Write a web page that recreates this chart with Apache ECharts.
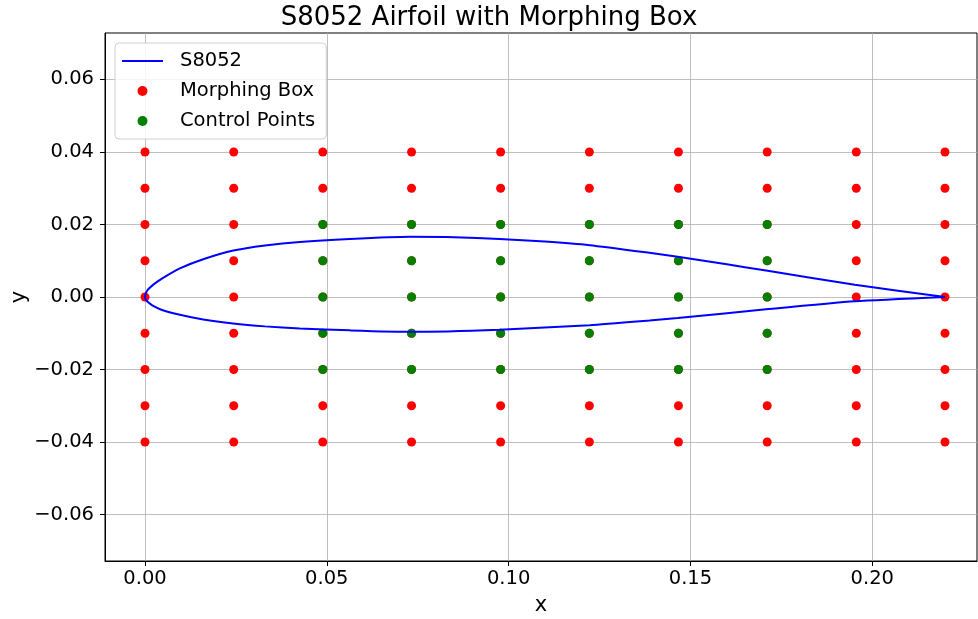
<!DOCTYPE html>
<html lang="en">
<head>
    <meta charset="UTF-8">
    <title>S8052 Airfoil with Morphing Box</title>
    <script type="text/javascript" src="https://cdn.jsdelivr.net/npm/echarts@6/dist/echarts.min.js"></script>
    <style>
        html, body { margin: 0; padding: 0; background: #fff; }
        #ec { width: 978px; height: 619px; }
    </style>
</head>
<body>
<div id="ec"></div>
<script>
    // airfoil outline (upper goes LE -> TE, lower LE -> TE)
    var upperX = [0.0, 0.0002, 0.0008, 0.0018, 0.0035, 0.0060, 0.0096, 0.0160, 0.0243, 0.0330, 0.0426, 0.0563, 0.0728, 0.085, 0.0975, 0.110, 0.1223, 0.1387, 0.1465, 0.160, 0.1708, 0.1952, 0.22];
    var upperY = [0.0, 0.0010, 0.0020, 0.0030, 0.0043, 0.0059, 0.0079, 0.0104, 0.0128, 0.0142, 0.0152, 0.0160, 0.0166, 0.0165, 0.0160, 0.0153, 0.0143, 0.0122, 0.0111, 0.0090, 0.0073, 0.0034, 0.0];
    var lowerX = [0.0, 0.0002, 0.0008, 0.0020, 0.0045, 0.0096, 0.0160, 0.0242, 0.0330, 0.0426, 0.0563, 0.0733, 0.0975, 0.1223, 0.1387, 0.1465, 0.1708, 0.1952, 0.22];
    var lowerY = [0.0, -0.0007, -0.0014, -0.0023, -0.0035, -0.0049, -0.0062, -0.0073, -0.0081, -0.0087, -0.0092, -0.0096, -0.0090, -0.0078, -0.0065, -0.0058, -0.0034, -0.0012, 0.0];

    // morphing box lattice
    var boxX = [0.0, 0.0244, 0.0489, 0.0733, 0.0978, 0.1222, 0.1467, 0.1711, 0.1956, 0.22];
    var boxY = [-0.04, -0.03, -0.02, -0.01, 0.0, 0.01, 0.02, 0.03, 0.04];
    // control points (inner part of the lattice)
    var ctrlX = [0.0489, 0.0733, 0.0978, 0.1222, 0.1467, 0.1711];
    var ctrlY = [-0.02, -0.01, 0.0, 0.01, 0.02];

    var xTicks = [0.0, 0.05, 0.10, 0.15, 0.20];
    var yTicks = [-0.06, -0.04, -0.02, 0.0, 0.02, 0.04, 0.06];

    var airfoil = [];
    for (var i = upperX.length - 1; i >= 0; i--) airfoil.push([upperX[i], upperY[i]]);
    for (var j = 1; j < lowerX.length; j++) airfoil.push([lowerX[j], lowerY[j]]);

    var boxPts = [];
    boxX.forEach(function (x) { boxY.forEach(function (y) { boxPts.push([x, y]); }); });
    var ctrlPts = [];
    ctrlX.forEach(function (x) { ctrlY.forEach(function (y) { ctrlPts.push([x, y]); }); });

    var font = 'DejaVu Sans';
    function fmt(v) {
        var s = Math.abs(v).toFixed(2);
        return v < -1e-9 ? '\u2212' + s : s;
    }
    var gridLine = { show: true, lineStyle: { color: '#b0b0b0', width: 0.8 } };

    var myChart = echarts.init(document.getElementById('ec'), null, { renderer: 'canvas' });
    myChart.setOption({
        animation: false,
        backgroundColor: '#fff',
        title: {
            text: 'S8052 Airfoil with Morphing Box',
            left: 'center',
            top: 5,
            padding: 0,
            textStyle: { fontFamily: font, fontSize: 26, fontWeight: 'normal', color: '#000' }
        },
        grid: {
            left: 105, right: 1, top: 33, bottom: 58,
            outerBoundsMode: 'none',
            containLabel: false,
            show: true, borderColor: '#000', borderWidth: 1
        },
        legend: {
            orient: 'vertical',
            left: 115, top: 43,
            padding: [7, 11, 7, 7],
            itemGap: 8,
            itemWidth: 41,
            itemHeight: 10,
            backgroundColor: 'rgba(255,255,255,0.85)',
            borderColor: '#d0d0d0',
            borderWidth: 1,
            borderRadius: 4,
            textStyle: { fontFamily: font, fontSize: 19.5, color: '#000', lineHeight: 22, padding: [0, 0, 0, 12] },
            data: [
                { name: 'S8052', icon: 'path://M0,0 M0,4 L41,4 L41,6 L0,6 Z M41,10' },
                { name: 'Morphing Box' },
                { name: 'Control Points' }
            ]
        },
        xAxis: {
            type: 'value',
            min: -0.011, max: 0.2288,
            name: 'x', nameLocation: 'middle', nameGap: 34,
            nameTextStyle: { fontFamily: font, fontSize: 21, color: '#000' },
            axisLine: { show: true, onZero: false, lineStyle: { color: '#000', width: 1 } },
            axisTick: { show: true, length: 5, lineStyle: { color: '#000' }, customValues: xTicks },
            axisLabel: { fontFamily: font, fontSize: 19.5, color: '#000', margin: 8, customValues: xTicks, formatter: fmt },
            splitLine: gridLine
        },
        yAxis: {
            type: 'value',
            min: -0.0728, max: 0.0728,
            name: 'y', nameLocation: 'middle', nameGap: 75, nameRotate: 90,
            nameMoveOverlap: false,
            nameTextStyle: { fontFamily: font, fontSize: 21, color: '#000' },
            axisLine: { show: true, onZero: false, lineStyle: { color: '#000', width: 1 } },
            axisTick: { show: true, length: 5, lineStyle: { color: '#000' }, customValues: yTicks },
            axisLabel: { fontFamily: font, fontSize: 19.5, color: '#000', margin: 11, customValues: yTicks, formatter: fmt },
            splitLine: gridLine
        },
        series: [
            {
                name: 'S8052',
                type: 'line',
                data: airfoil,
                symbol: 'none',
                smooth: 0.2,
                z: 5,
                lineStyle: { color: '#0000ff', width: 2 },
                itemStyle: { color: '#0000ff' }
            },
            {
                name: 'Morphing Box',
                type: 'scatter',
                data: boxPts,
                symbolSize: 9,
                z: 2,
                itemStyle: { color: '#ff0000', opacity: 1 }
            },
            {
                name: 'Control Points',
                type: 'scatter',
                data: ctrlPts,
                symbolSize: 9,
                z: 3,
                itemStyle: { color: '#008000', opacity: 1 }
            }
        ]
    });
</script>
</body>
</html>
